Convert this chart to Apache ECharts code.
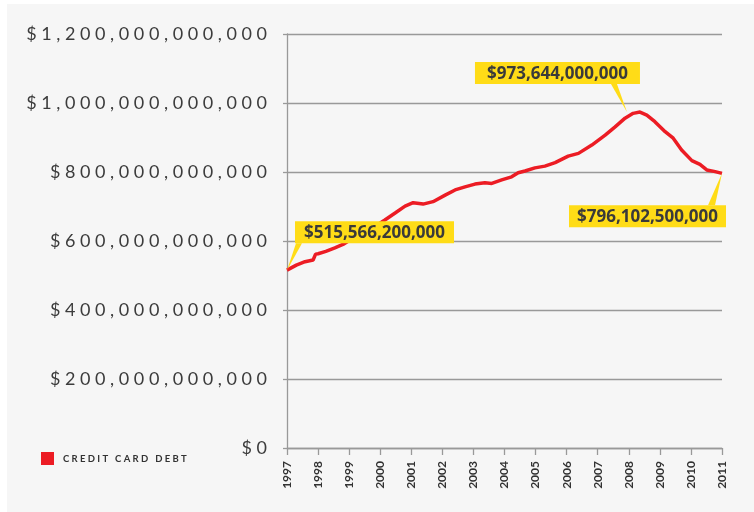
<!DOCTYPE html>
<html>
<head>
<meta charset="utf-8">
<title>Credit Card Debt</title>
<script src="https://cdn.jsdelivr.net/npm/echarts@6/dist/echarts.min.js"></script>
<style>
	html, body { margin: 0; padding: 0; background: #fff; }
	#chart { width: 754px; height: 512px; }
</style>
</head>
<body>
<div id="chart"></div>
<script>
(function() {
	'use strict';

	// decimal year of each reading
	var years = [
		1997.00, 1997.30, 1997.58, 1997.84, 1997.92, 1998.00, 1998.25, 1998.54, 1998.80, 1999.08,
		1999.35, 1999.61, 1999.88, 2000.15, 2000.48, 2000.80, 2001.06, 2001.38, 2001.70, 2002.09,
		2002.41, 2002.73, 2003.05, 2003.37, 2003.59, 2003.91, 2004.23, 2004.44, 2004.66, 2004.98,
		2005.30, 2005.63, 2006.05, 2006.38, 2006.81, 2007.24, 2007.56, 2007.88, 2008.14, 2008.36,
		2008.58, 2008.84, 2009.17, 2009.43, 2009.70, 2010.03, 2010.29, 2010.51, 2010.78, 2011.00
	];

	// credit card debt, billions of dollars
	var debtBillions = [
		515.5662, 530, 540, 545, 562, 563, 570, 580, 590, 606,
		618, 632, 645, 661, 681, 701, 711, 707, 714, 733,
		748, 757, 765, 769, 767, 777, 786, 798, 803, 812,
		817, 827, 846, 854, 878, 907, 931, 956, 970, 973.644,
		965, 946, 917, 898, 864, 833, 822, 806, 801, 796.1025
	];

	var yearTicks = [1997, 1998, 1999, 2000, 2001, 2002, 2003, 2004, 2005, 2006, 2007, 2008, 2009, 2010, 2011];
	var valueTicks = [0, 200e9, 400e9, 600e9, 800e9, 1000e9, 1200e9];
	var seriesName = 'Credit Card Debt';
	var calloutIndexes = [0, 39, 49];

	var chart = echarts.init(document.getElementById('chart'), null, { renderer: 'canvas' });

	function money(v) {
		return '$' + Math.round(v).toString().replace(/\B(?=(\d{3})+(?!\d))/g, ',');
	}

	function spaced(str, gap) {
		return str.split('').join(gap);
	}

	var lineData = years.map(function(y, i) {
		return [y, debtBillions[i] * 1e9];
	});

	var option = {
		animation: false,
		backgroundColor: '#fff',
		grid: { left: 287, right: 32, top: 34, bottom: 64, containLabel: false, outerBoundsMode: 'none' },
		legend: {
			left: 41,
			top: 452,
			padding: 0,
			icon: 'rect',
			itemWidth: 13,
			itemHeight: 13,
			itemGap: 0,
			data: [seriesName],
			formatter: function(name) {
				return spaced(name.toUpperCase(), ' ');
			},
			textStyle: { fontFamily: 'Lato', fontWeight: 'bold', fontSize: 9.5, color: '#333', padding: [2, 0, 0, 4] }
		},
		xAxis: {
			type: 'value',
			min: yearTicks[0],
			max: yearTicks[yearTicks.length - 1],
			interval: 1,
			axisLine: { show: true, lineStyle: { color: '#999', width: 1.3 } },
			axisTick: { show: true, length: 7, lineStyle: { color: '#999', width: 1.3 } },
			splitLine: { show: false },
			axisLabel: {
				rotate: 90,
				margin: 13,
				fontFamily: 'Lato',
				fontWeight: 'bold',
				fontSize: 12,
				color: '#333',
				formatter: function(v) { return String(v); }
			}
		},
		yAxis: {
			type: 'value',
			min: valueTicks[0],
			max: valueTicks[valueTicks.length - 1],
			interval: valueTicks[1] - valueTicks[0],
			axisLine: { show: true, lineStyle: { color: '#999', width: 1.3 } },
			axisTick: { show: true, length: 4, lineStyle: { color: '#999', width: 1.3 } },
			splitLine: { show: true, lineStyle: { color: '#999', width: 1.3 } },
			axisLabel: {
				margin: 20,
				fontFamily: 'Lato',
				fontSize: 18,
				color: '#3c3c3c',
				formatter: function(v) { return spaced(money(v), ' '); }
			}
		},
		series: [{
			name: seriesName,
			type: 'line',
			data: lineData,
			showSymbol: false,
			symbol: 'none',
			color: '#ec1c24',
			lineStyle: { color: '#ec1c24', width: 3.5 },
			z: 3
		}]
	};

	chart.setOption(option);

	// callout layout relative to its data point: box corner, box size, tip shift and wedge base
	var calloutLayout = [
		{ box: [8, -49], size: [159, 22], tip: [0, 0], base: [[9, -27], [15, -27]] },
		{ box: [-165, -50], size: [165, 22], tip: [-13, 0], base: [[-29, -28], [-23, -28]] },
		{ box: [-153, 32], size: [157, 22], tip: [0, 0], base: [[-14, 32], [-7, 32]] }
	];

	var graphics = [{
		type: 'rect',
		left: 7,
		top: 4,
		shape: { width: 747, height: 508 },
		style: { fill: '#f6f6f6' },
		silent: true,
		z: -100
	}];

	calloutIndexes.forEach(function(idx, k) {
		var lay = calloutLayout[k];
		var pt = chart.convertToPixel({ gridIndex: 0 }, lineData[idx]);
		var bx = pt[0] + lay.box[0];
		var by = pt[1] + lay.box[1];
		graphics.push({
			type: 'polygon',
			shape: {
				points: [
					[pt[0] + lay.tip[0], pt[1] + lay.tip[1]],
					[pt[0] + lay.base[0][0], pt[1] + lay.base[0][1]],
					[pt[0] + lay.base[1][0], pt[1] + lay.base[1][1]]
				]
			},
			style: { fill: '#ffdc17' },
			z: 10
		});
		graphics.push({
			type: 'rect',
			shape: { x: bx, y: by, width: lay.size[0], height: lay.size[1] },
			style: { fill: '#ffdc17' },
			z: 10
		});
		graphics.push({
			type: 'text',
			x: bx + lay.size[0] / 2,
			y: by + lay.size[1] / 2 + 1,
			style: {
				text: money(lineData[idx][1]),
				fill: '#3a3a3a',
				font: 'bold 17px "Open Sans"',
				align: 'center',
				verticalAlign: 'middle'
			},
			z: 11
		});
	});

	chart.setOption({ graphic: graphics });
})();
</script>
</body>
</html>
